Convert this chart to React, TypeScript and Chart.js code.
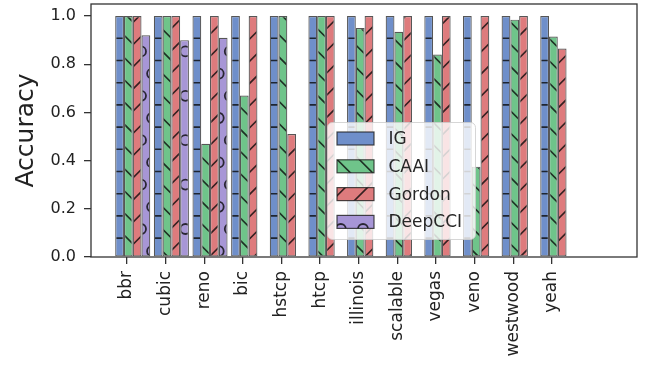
import React, { useEffect, useRef } from "react";
import { Chart, registerables } from "chart.js";

Chart.register(...registerables);

const categories = ["bbr", "cubic", "reno", "bic", "hstcp", "htcp", "illinois", "scalable", "vegas", "veno", "westwood", "yeah"];
const seriesNames = ["IG", "CAAI", "Gordon", "DeepCCI"];
const igValues = [1, 1, 1, 1, 1, 1, 1, 1, 1, 1, 1, 1];
const caaiValues = [1, 1, 0.47, 0.67, 1, 1, 0.95, 0.935, 0.84, 0.375, 0.985, 0.915];
const gordonValues = [1, 1, 1, 1, 0.51, 1, 1, 1, 1, 1, 1, 0.865];
const deepcciValues = [0.92, 0.9, 0.91, 0, 0, 0, 0, 0, 0, 0, 0, 0];
const yTickValues = [0, 0.2, 0.4, 0.6, 0.8, 1.0];

const seriesColors = ["#6f8fca", "#6fc48a", "#de7b7d", "#a796d6"];
const seriesHatches = ["-", "\\", "/", "o"];

const FONT = '"DejaVu Sans", sans-serif';
const P = 22.2; // hatch period in px
const T = 222; // tile = 10 periods

function makePattern(color: string, kind: string): CanvasPattern | string {
  const c = document.createElement("canvas");
  c.width = T;
  c.height = T;
  const g = c.getContext("2d");
  if (!g) return color;
  g.fillStyle = color;
  g.fillRect(0, 0, T, T);
  g.strokeStyle = "rgba(10,10,10,0.8)";
  g.lineWidth = 1.6;
  g.beginPath();
  if (kind === "-") {
    for (let k = 0; k < 10; k++) {
      const y = k * P + 16.1;
      g.moveTo(-2, y);
      g.lineTo(T + 2, y);
    }
  } else if (kind === "/") {
    for (let k = -1; k <= 21; k++) {
      const cc = k * P;
      g.moveTo(cc + 10, -10);
      g.lineTo(cc - T - 10, T + 10);
    }
  } else if (kind === "\\") {
    for (let k = -11; k <= 11; k++) {
      const cc = k * P;
      g.moveTo(cc - 10, -10);
      g.lineTo(cc + T + 10, T + 10);
    }
  } else if (kind === "o") {
    const r = 5;
    g.lineWidth = 1.8;
    for (let i = -1; i <= 11; i++) {
      for (let j = -1; j <= 11; j++) {
        const cx = j * P + (Math.abs(i) % 2 === 1 ? P / 2 : 0) + 7.8;
        const cy = i * P + 7;
        g.moveTo(cx + r, cy);
        g.arc(cx, cy, r, 0, Math.PI * 2);
      }
    }
  }
  g.stroke();
  const pat = g.createPattern(c, "repeat");
  return pat || color;
}

const framePlugin = {
  id: "frame",
  afterDatasetsDraw(chart: any) {
    const { ctx, chartArea } = chart;
    ctx.save();
    ctx.strokeStyle = "#333";
    ctx.lineWidth = 1.3;
    ctx.strokeRect(chartArea.left, chartArea.top, chartArea.right - chartArea.left, chartArea.bottom - chartArea.top);
    ctx.restore();
  },
};

const legendPlugin = {
  id: "boxLegend",
  afterDraw(chart: any) {
    const { ctx, chartArea } = chart;
    const x0 = chartArea.left + 236.5;
    const y0 = chartArea.top + 118.5;
    const w = 148;
    const h = 117;
    ctx.save();
    ctx.beginPath();
    if (ctx.roundRect) ctx.roundRect(x0, y0, w, h, 5);
    else ctx.rect(x0, y0, w, h);
    ctx.fillStyle = "rgba(255,255,255,0.8)";
    ctx.fill();
    ctx.strokeStyle = "rgba(204,204,204,0.8)";
    ctx.lineWidth = 1;
    ctx.stroke();
    chart.data.datasets.forEach((ds: any, i: number) => {
      const cy = y0 + 16 + i * 27.8;
      const px = x0 + 9.5;
      ctx.fillStyle = ds.backgroundColor;
      ctx.fillRect(px, cy - 6.5, 37, 13);
      ctx.strokeStyle = "rgba(30,30,30,0.8)";
      ctx.lineWidth = 1.2;
      ctx.strokeRect(px, cy - 6.5, 37, 13);
      ctx.fillStyle = "#262626";
      ctx.font = `17px ${FONT}`;
      ctx.textBaseline = "middle";
      ctx.textAlign = "left";
      ctx.fillText(ds.label, x0 + 61, cy + 1);
    });
    ctx.restore();
  },
};

export default function App() {
  const ref = useRef<HTMLCanvasElement | null>(null);

  useEffect(() => {
    document.body.style.margin = "0";
    const canvas = ref.current;
    if (!canvas) return;
    const valueSets = [igValues, caaiValues, gordonValues, deepcciValues];
    const datasets = seriesNames.map((name, s) => ({
      label: name,
      data: categories.map((_, i) => ({ x: i + 0.15, y: valueSets[s][i] })),
      backgroundColor: makePattern(seriesColors[s], seriesHatches[s]),
      borderColor: "rgba(30,30,30,0.75)",
      borderWidth: 1.2,
      borderSkipped: false,
      categoryPercentage: 0.908,
      barPercentage: 1.0,
    }));

    const chart = new Chart(canvas, {
      type: "bar",
      data: { datasets } as any,
      options: {
        animation: false,
        responsive: false,
        devicePixelRatio: 1,
        layout: { padding: { top: 4, right: 11, left: 0, bottom: 0 } },
        plugins: { legend: { display: false }, tooltip: { enabled: false } },
        scales: {
          x: {
            type: "linear",
            offset: false,
            min: -0.93,
            max: 13.2,
            afterBuildTicks: (scale: any) => {
              scale.ticks = categories.map((_, i) => ({ value: i }));
            },
            afterFit: (scale: any) => {
              scale.height = 108;
              scale.paddingLeft = 0;
              scale.paddingRight = 0;
            },
            ticks: {
              autoSkip: false,
              maxRotation: 90,
              minRotation: 90,
              padding: 7,
              color: "#222",
              font: { family: FONT, size: 17 },
              callback: (v: any) => categories[Math.round(Number(v))] ?? "",
            },
            grid: { offset: false, drawOnChartArea: false, tickLength: 7, color: "#333", lineWidth: 1.3 },
            border: { display: false },
          },
          y: {
            min: 0,
            max: 1.05,
            afterBuildTicks: (scale: any) => {
              scale.ticks = yTickValues.map((v) => ({ value: v }));
            },
            afterFit: (scale: any) => {
              scale.width = 91;
              scale.paddingTop = 0;
              scale.paddingBottom = 0;
            },
            ticks: {
              padding: 8,
              color: "#222",
              font: { family: FONT, size: 16 },
              callback: (v: any) => Number(v).toFixed(1),
            },
            grid: { drawOnChartArea: false, tickLength: 7, color: "#333", lineWidth: 1.3 },
            border: { display: false },
            title: {
              display: true,
              text: "Accuracy",
              color: "#222",
              font: { family: FONT, size: 25 },
              padding: { top: 11, bottom: 0 },
            },
          },
        },
      },
      plugins: [framePlugin, legendPlugin],
    } as any);

    return () => chart.destroy();
  }, []);

  return (
    <div style={{ width: 648, height: 365 }}>
      <canvas ref={ref} width={648} height={365} style={{ display: "block", width: 648, height: 365 }} />
    </div>
  );
}
